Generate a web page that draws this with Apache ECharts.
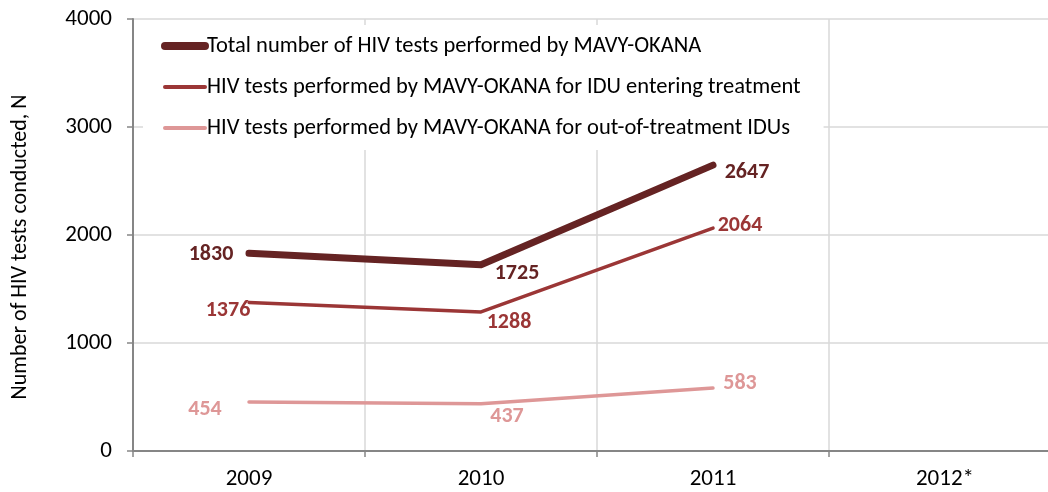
<!DOCTYPE html>
<html>
<head>
<meta charset="utf-8">
<title>HIV tests MAVY-OKANA</title>
<script src="https://cdn.jsdelivr.net/npm/echarts@6/dist/echarts.min.js"></script>
<style>
  html, body { margin: 0; padding: 0; background: #fff; }
  #chart { width: 1048px; height: 492px; }
</style>
</head>
<body>
<div id="chart"></div>
<script>
// categories and values
var years = ['2009', '2010', '2011', '2012*'];
var totalTests = [1830, 1725, 2647, null];
var enteringTreatment = [1376, 1288, 2064, null];
var outOfTreatment = [454, 437, 583, null];
var yTicks = [0, 1000, 2000, 3000, 4000];

var seriesNames = [
    'Total number of HIV tests performed by MAVY-OKANA',
    'HIV tests performed by MAVY-OKANA for IDU entering treatment',
    'HIV tests performed by MAVY-OKANA for out-of-treatment IDUs'
];
var colors = ['#652323', '#9b3636', '#de9797'];
var widths = [7, 3.5, 3.5];

// label offsets (px) from each point, per series
var totalOffsets = [[-38, 1], [36, 9], [34, 7]];
var enteringOffsets = [[-21, 8], [28, 11], [27, -3]];
var outOffsets = [[-44, 8], [26, 13], [27, -5]];

var font = 'Carlito, Calibri, Lato, "Open Sans", sans-serif';

function withLabels(values, offsets) {
    return values.map(function (v, i) {
        if (v == null) return null;
        return { value: v, label: { offset: offsets[i] } };
    });
}

function makeSeries(idx, values, offsets) {
    return {
        name: seriesNames[idx],
        type: 'line',
        data: withLabels(values, offsets),
        symbol: 'circle',
        symbolSize: 1,
        showSymbol: true,
        itemStyle: { color: colors[idx] },
        lineStyle: { color: colors[idx], width: widths[idx], cap: 'round', join: 'round' },
        label: {
            show: true,
            position: 'inside',
            color: colors[idx],
            fontFamily: font,
            fontWeight: 'bold',
            fontSize: 22
        },
        emphasis: { disabled: true },
        animation: false
    };
}

var chart = echarts.init(document.getElementById('chart'));
chart.setOption({
    backgroundColor: '#fff',
    grid: { left: 133, width: 928, top: 19, bottom: 41, outerBoundsMode: 'none' },
    legend: {
        orient: 'vertical',
        left: 143,
        top: 25,
        backgroundColor: '#fff',
        padding: [9, 23, 10, 18],
        itemWidth: 40,
        itemHeight: 8,
        itemGap: 17,
        itemStyle: { color: 'transparent', borderColor: 'transparent', borderWidth: 0 },
        textStyle: { fontFamily: font, fontSize: 22.5, color: '#000', lineHeight: 24, padding: [0, 0, 0, -3] },
        data: seriesNames.map(function (n, i) {
            return { name: n, lineStyle: { width: i === 0 ? 8 : 4, color: colors[i], cap: 'round' } };
        }),
        selectedMode: false
    },
    xAxis: {
        type: 'category',
        data: years,
        boundaryGap: true,
        axisLine: { lineStyle: { color: '#868686', width: 2 } },
        axisTick: { show: true, length: 6, lineStyle: { color: '#868686', width: 1.5 } },
        axisLabel: { color: '#000', fontFamily: font, fontSize: 23, margin: 17 },
        splitLine: { show: true, lineStyle: { color: '#d9d9d9', width: 1.5 } }
    },
    yAxis: {
        type: 'value',
        min: yTicks[0],
        max: yTicks[yTicks.length - 1],
        interval: 1000,
        name: 'Number of HIV tests conducted, N',
        nameLocation: 'middle',
        nameGap: 102,
        nameTextStyle: { color: '#000', fontFamily: font, fontSize: 22, padding: [0, 24, 0, 0] },
        axisLine: { show: true, lineStyle: { color: '#868686', width: 2 } },
        axisTick: { show: true, length: 6, lineStyle: { color: '#868686', width: 1.5 } },
        axisLabel: {
            color: '#000', fontFamily: font, fontSize: 23, margin: 21,
            formatter: function (v) { return String(v); }
        },
        splitLine: { show: true, lineStyle: { color: '#d9d9d9', width: 1.5 } }
    },
    series: [
        makeSeries(0, totalTests, totalOffsets),
        makeSeries(1, enteringTreatment, enteringOffsets),
        makeSeries(2, outOfTreatment, outOffsets)
    ]
});
</script>
</body>
</html>
